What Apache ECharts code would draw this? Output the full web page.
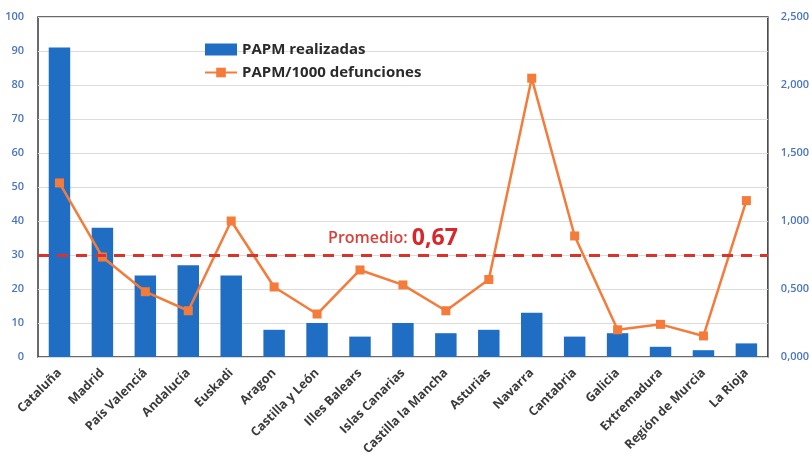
<!DOCTYPE html>
<html>
<head>
<meta charset="utf-8">
<script src="https://cdn.jsdelivr.net/npm/echarts@6/dist/echarts.min.js"></script>
<style>
html, body { margin: 0; padding: 0; background: #fff; }
#chart { width: 812px; height: 472px; }
</style>
</head>
<body>
<div id="chart"></div>
<script>
var regiones = ['Cataluña', 'Madrid', 'País Valenciá', 'Andalucía', 'Euskadi', 'Aragon', 'Castilla y León', 'Illes Balears', 'Islas Canarias', 'Castilla la Mancha', 'Asturias', 'Navarra', 'Cantabria', 'Galicia', 'Extremadura', 'Región de Murcia', 'La Rioja'];
var papmRealizadas = [91, 38, 24, 27, 24, 8, 10, 6, 10, 7, 8, 13, 6, 7, 3, 2, 4];
var papmPorDefunciones = [1.28, 0.735, 0.48, 0.34, 1.0, 0.515, 0.316, 0.64, 0.53, 0.34, 0.57, 2.05, 0.89, 0.2, 0.24, 0.155, 1.15];
var promedioNivel = 30;
var promedioTexto = '0,67';

var chart = echarts.init(document.getElementById('chart'));
var axisColor = '#4a74c6';
var option = {
	animation: false,
	textStyle: { fontFamily: 'Open Sans, Liberation Sans, sans-serif' },
	grid: {
		left: 38, right: 39, top: 17, bottom: 115,
		show: true, borderColor: '#3a3a3a', borderWidth: 1.5
	},
	legend: {
		left: 199, top: 37, orient: 'vertical', itemGap: 8,
		itemWidth: 32, itemHeight: 12,
		textStyle: { color: '#2a2a2a', fontSize: 15, fontWeight: 'bold' },
		data: [
			{ name: 'PAPM realizadas', icon: 'rect' },
			{ name: 'PAPM/1000 defunciones' }
		]
	},
	xAxis: {
		type: 'category',
		data: regiones,
		axisLine: { show: false },
		axisTick: { show: false },
		axisLabel: { rotate: 45, color: '#3a3a3a', fontSize: 12.5, fontWeight: 'bold', margin: 14, interval: 0 }
	},
	yAxis: [{
		type: 'value', min: 0, max: 100, interval: 10,
		axisLine: { show: false }, axisTick: { show: false },
		axisLabel: { color: axisColor, fontSize: 11, fontWeight: 600, margin: 14 },
		splitLine: { lineStyle: { color: '#dcdcdc' } }
	}, {
		type: 'value', min: 0, max: 2.5, interval: 0.5,
		axisLine: { show: false }, axisTick: { show: false },
		axisLabel: {
			color: axisColor, fontSize: 11, fontWeight: 600, margin: 13,
			formatter: function (v) { return v.toFixed(3).replace('.', ','); }
		},
		splitLine: { show: false }
	}],
	series: [{
		name: 'PAPM realizadas',
		type: 'bar',
		barWidth: '50%',
		itemStyle: { color: '#1f6ec4' },
		data: papmRealizadas,
		markLine: {
			silent: true,
			symbol: 'none',
			lineStyle: { color: '#d9342b', width: 3, type: [11, 8] },
			label: {
				show: true,
				position: 'insideMiddleTop',
				distance: 5,
				offset: [-10, 0],
				formatter: '{a|Promedio: }{b|' + promedioTexto + '}',
				rich: {
					a: { color: '#d9403a', fontSize: 16, fontWeight: 600 },
					b: { color: '#d9262b', fontSize: 23, fontWeight: 'bold' }
				}
			},
			data: [{ yAxis: promedioNivel }]
		}
	}, {
		name: 'PAPM/1000 defunciones',
		type: 'line',
		yAxisIndex: 1,
		symbol: 'rect',
		symbolSize: 9,
		lineStyle: { color: '#f47b3a', width: 2.5 },
		itemStyle: { color: '#f47b3a' },
		data: papmPorDefunciones
	}]
};
chart.setOption(option);
</script>
</body>
</html>
